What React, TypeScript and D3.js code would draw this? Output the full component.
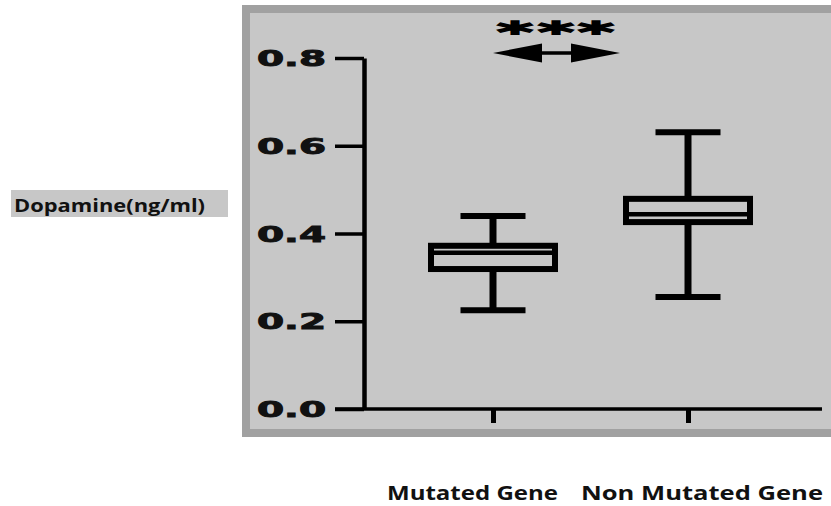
import React, { useRef, useEffect } from 'react';
import * as d3 from 'd3';

// groups and box statistics
const groups = ['Mutated Gene', 'Non Mutated Gene'];
const mins = [0.225, 0.255];
const q1s = [0.319, 0.426];
const medians = [0.356, 0.444];
const q3s = [0.372, 0.479];
const maxs = [0.44, 0.631];
const yTicks = [0, 0.2, 0.4, 0.6, 0.8];
const yLabel = 'Dopamine(ng/ml)';
const sigLabel = '***';

const W = 831;
const H = 506;

const App = () => {
  const svgRef = useRef(null);

  useEffect(() => {
    const svg = d3.select(svgRef.current);
    svg.selectAll('*').remove();

    const bg = '#c7c7c7';
    const border = '#a1a1a1';

    // gray panel with darker frame
    svg.append('rect')
      .attr('x', 246).attr('y', 9)
      .attr('width', 620).attr('height', 424)
      .attr('fill', bg)
      .attr('stroke', border)
      .attr('stroke-width', 8);

    const y = d3.scaleLinear().domain([0, 0.8]).range([409, 58]);
    const x = d3.scalePoint().domain(groups).range([493, 688]);

    // y axis
    const yAxis = d3.axisLeft(y)
      .tickValues(yTicks)
      .tickFormat(d3.format('.1f'))
      .tickSize(29)
      .tickSizeOuter(0)
      .tickPadding(9);

    const gy = svg.append('g')
      .attr('transform', 'translate(364,0)')
      .call(yAxis);
    gy.select('.domain').attr('stroke', '#000').attr('stroke-width', 4.5);
    gy.selectAll('.tick line').attr('stroke', '#000').attr('stroke-width', 3.5);
    gy.selectAll('.tick text')
      .attr('fill', '#111')
      .attr('stroke', '#111')
      .attr('stroke-width', 0.9)
      .attr('dy', null)
      .attr('y', 7.6)
      .style('font-family', 'DejaVu Sans')
      .style('font-weight', 'bold')
      .style('font-size', '21px')
      .attr('textLength', 69)
      .attr('lengthAdjust', 'spacingAndGlyphs');

    // x axis line and ticks
    svg.append('line')
      .attr('x1', 335).attr('x2', 822)
      .attr('y1', y(0)).attr('y2', y(0))
      .attr('stroke', '#000')
      .attr('stroke-width', 3.5);

    const xAxis = d3.axisBottom(x).tickSize(14).tickFormat(() => '');
    const gx = svg.append('g')
      .attr('transform', `translate(0,${y(0)})`)
      .call(xAxis);
    gx.select('.domain').remove();
    gx.selectAll('.tick line').attr('stroke', '#000').attr('stroke-width', 5);

    // box plots
    const boxW = 124;
    const capW = 65;
    const data = groups.map((g, i) => ({
      g, min: mins[i], q1: q1s[i], med: medians[i], q3: q3s[i], max: maxs[i],
    }));

    const boxes = svg.selectAll('.box')
      .data(data)
      .enter()
      .append('g')
      .attr('class', 'box');

    // whiskers
    boxes.append('line')
      .attr('x1', d => x(d.g)).attr('x2', d => x(d.g))
      .attr('y1', d => y(d.q3)).attr('y2', d => y(d.max))
      .attr('stroke', '#000').attr('stroke-width', 7);
    boxes.append('line')
      .attr('x1', d => x(d.g)).attr('x2', d => x(d.g))
      .attr('y1', d => y(d.q1)).attr('y2', d => y(d.min))
      .attr('stroke', '#000').attr('stroke-width', 7);

    // caps
    boxes.append('line')
      .attr('x1', d => x(d.g) - capW / 2).attr('x2', d => x(d.g) + capW / 2)
      .attr('y1', d => y(d.max)).attr('y2', d => y(d.max))
      .attr('stroke', '#000').attr('stroke-width', 6);
    boxes.append('line')
      .attr('x1', d => x(d.g) - capW / 2).attr('x2', d => x(d.g) + capW / 2)
      .attr('y1', d => y(d.min)).attr('y2', d => y(d.min))
      .attr('stroke', '#000').attr('stroke-width', 6);

    // box
    boxes.append('rect')
      .attr('x', d => x(d.g) - boxW / 2)
      .attr('y', d => y(d.q3))
      .attr('width', boxW)
      .attr('height', d => y(d.q1) - y(d.q3))
      .attr('fill', bg)
      .attr('stroke', '#000')
      .attr('stroke-width', 6);

    // median
    boxes.append('line')
      .attr('x1', d => x(d.g) - boxW / 2).attr('x2', d => x(d.g) + boxW / 2)
      .attr('y1', d => y(d.med)).attr('y2', d => y(d.med))
      .attr('stroke', '#000').attr('stroke-width', 4.5);

    // significance marker: three stretched asterisks over a double arrow
    const starX = [515, 556, 596];
    svg.selectAll('.star')
      .data(sigLabel.split(''))
      .enter()
      .append('text')
      .attr('class', 'star')
      .attr('x', (d, i) => starX[i])
      .attr('y', 42)
      .attr('text-anchor', 'middle')
      .attr('textLength', 36)
      .attr('lengthAdjust', 'spacingAndGlyphs')
      .style('font-family', 'DejaVu Sans')
      .style('font-weight', 'bold')
      .style('font-size', '28px')
      .attr('fill', '#000')
      .attr('stroke', '#000')
      .attr('stroke-width', 1.4)
      .text(d => d);

    const ax0 = 493, ax1 = 620, ay = 53, head = 49, hh = 9.5, sh = 1.8;
    svg.append('path')
      .attr('d', `M${ax0},${ay} L${ax0 + head},${ay - hh} L${ax0 + head},${ay - sh} L${ax1 - head},${ay - sh} L${ax1 - head},${ay - hh} L${ax1},${ay} L${ax1 - head},${ay + hh} L${ax1 - head},${ay + sh} L${ax0 + head},${ay + sh} L${ax0 + head},${ay + hh} Z`)
      .attr('fill', '#000');

    // y label with gray background
    svg.append('rect')
      .attr('x', 11).attr('y', 190)
      .attr('width', 217).attr('height', 27)
      .attr('fill', bg);
    svg.append('text')
      .attr('x', 14).attr('y', 212)
      .attr('textLength', 191)
      .attr('lengthAdjust', 'spacingAndGlyphs')
      .style('font-family', 'Open Sans')
      .style('font-weight', 'bold')
      .style('font-size', '18px')
      .attr('fill', '#111')
      .text(yLabel);

    // category labels under the panel
    const labelX = [387, 581];
    const labelLen = [171, 242];
    svg.selectAll('.cat')
      .data(groups)
      .enter()
      .append('text')
      .attr('class', 'cat')
      .attr('x', (d, i) => labelX[i])
      .attr('y', 500)
      .attr('textLength', (d, i) => labelLen[i])
      .attr('lengthAdjust', 'spacingAndGlyphs')
      .style('font-family', 'Open Sans')
      .style('font-weight', 'bold')
      .style('font-size', '19.5px')
      .attr('fill', '#111')
      .text(d => d);
  }, []);

  return (
    <div style={{ position: 'fixed', left: 0, top: 0, background: '#fff' }}>
      <svg ref={svgRef} width={W} height={H} style={{ display: 'block' }}></svg>
    </div>
  );
};

export default App;
